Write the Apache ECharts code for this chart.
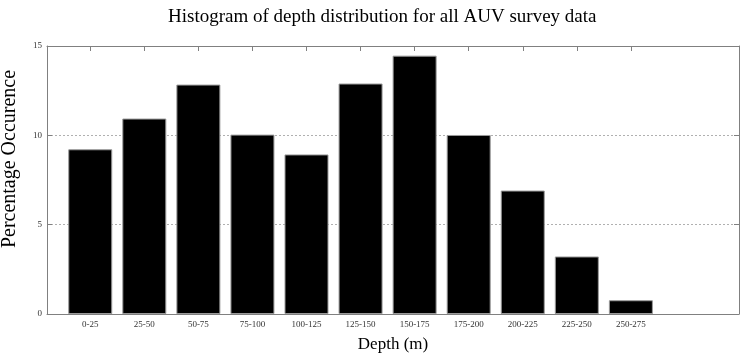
<!DOCTYPE html>
<html>
<head>
<meta charset="utf-8">
<script src="https://cdn.jsdelivr.net/npm/echarts@6/dist/echarts.min.js"></script>
<style>
  html, body { margin: 0; padding: 0; background: #fff; }
  #chart { width: 743px; height: 358px; }
</style>
</head>
<body>
<div id="chart"></div>
<script>
// depth bins (m) and percentage of samples in each
var depthBins = ["0-25", "25-50", "50-75", "75-100", "100-125", "125-150",
  "150-175", "175-200", "200-225", "225-250", "250-275"];
var percentOcc = [9.22, 10.94, 12.84, 10.04, 8.93, 12.9, 14.46, 10.02, 6.91, 3.22, 0.77];
var binPositions = [1, 2, 3, 4, 5, 6, 7, 8, 9, 10, 11];

var myChart = echarts.init(document.getElementById("chart"));
var serif = "'Liberation Serif', 'DejaVu Serif', serif";
var boxColor = "#808080";

var barData = binPositions.map(function (p, i) {
  return [p, percentOcc[i]];
});

function xAxisBox(pos, showLabel) {
  return {
    type: "value",
    position: pos,
    min: 0.2,
    max: 13,
    axisLine: { show: true, onZero: false, lineStyle: { color: boxColor, width: 1 } },
    axisTick: { show: true, inside: true, length: 5, customValues: binPositions, lineStyle: { color: boxColor } },
    axisLabel: {
      show: showLabel,
      customValues: binPositions,
      fontFamily: serif,
      fontSize: 9,
      color: "#333",
      margin: 6,
      formatter: function (v) {
        return depthBins[Math.round(v) - 1];
      },
    },
    splitLine: { show: false },
  };
}

function yAxisBox(pos, showLabel) {
  return {
    type: "value",
    position: pos,
    min: 0,
    max: 15,
    interval: 5,
    axisLine: { show: true, lineStyle: { color: boxColor, width: 1 } },
    axisTick: { show: true, inside: true, length: 5, lineStyle: { color: boxColor } },
    axisLabel: { show: showLabel, fontFamily: serif, fontSize: 9, color: "#333", margin: 5 },
    splitLine: {
      show: showLabel,
      lineStyle: { color: "#b0b0b0", type: [2, 2], width: 1 },
    },
  };
}

var xBottom = xAxisBox("bottom", true);
xBottom.name = "Depth (m)";
xBottom.nameLocation = "middle";
xBottom.nameGap = 22;
xBottom.nameTextStyle = { fontFamily: serif, fontSize: 17, color: "#000", verticalAlign: "top" };

var yLeft = yAxisBox("left", true);
yLeft.name = "Percentage Occurence";
yLeft.nameLocation = "middle";
yLeft.nameGap = 27;
yLeft.nameTextStyle = { fontFamily: serif, fontSize: 20, color: "#000", padding: [0, 0, 0, 42] };

option = {
  animation: false,
  backgroundColor: "#fff",
  title: {
    text: "Histogram of depth distribution for all AUV survey data",
    left: 163,
    top: 3,
    textStyle: { fontFamily: serif, fontSize: 19, fontWeight: "normal", color: "#000" },
  },
  grid: { left: 47, right: 4, top: 46, bottom: 44, outerBoundsMode: "none" },
  xAxis: [xBottom, xAxisBox("top", false)],
  yAxis: [yLeft, yAxisBox("right", false)],
  series: [
    {
      type: "bar",
      xAxisIndex: 0,
      yAxisIndex: 0,
      data: barData,
      barWidth: 44,
      itemStyle: { color: "#000", borderColor: "#9a9a9a", borderWidth: 1 },
    },
  ],
};

myChart.setOption(option);
</script>
</body>
</html>
